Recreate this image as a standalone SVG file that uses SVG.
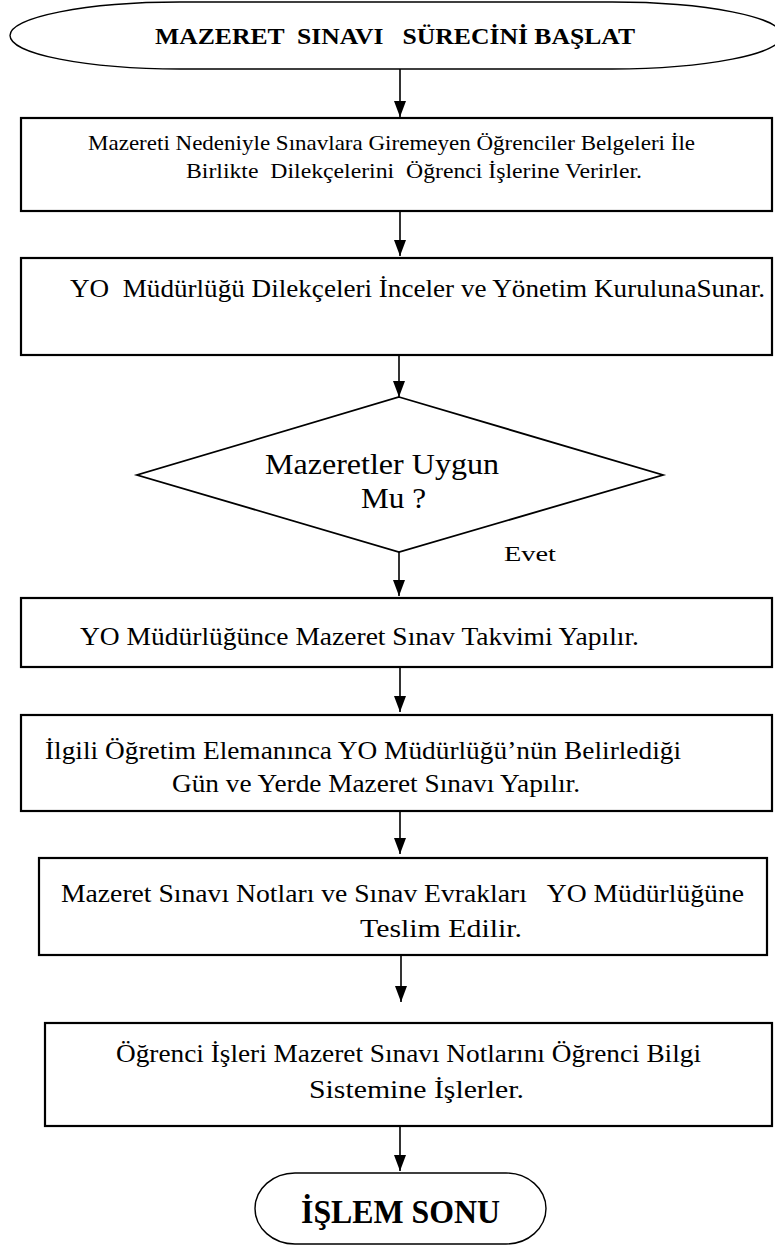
<svg xmlns="http://www.w3.org/2000/svg" width="775" height="1246" viewBox="0 0 775 1246" font-family="'Liberation Serif', 'Times New Roman', serif">
<defs>
<style>
.box{fill:#fff;stroke:#000;stroke-width:2.2}
.term{fill:#fff;stroke:#000;stroke-width:1.4}
.dia{fill:#fff;stroke:#000;stroke-width:1.8}
.t{font-family:"Liberation Serif","Times New Roman",serif;fill:#000}
.b{font-weight:bold}
.con{stroke:#000;stroke-width:1.6;fill:none}
</style>
<marker id="ah" markerWidth="16" markerHeight="12" refX="16" refY="6" orient="auto" markerUnits="userSpaceOnUse" viewBox="0 0 16 12">
<path d="M0,0 L16,6 L0,12 Z" fill="#000"/>
</marker>
</defs>
<rect width="775" height="1246" fill="#fff"/>
<g id="connectors">
<line class="con" x1="400" y1="69" x2="400" y2="117" marker-end="url(#ah)"/>
<line class="con" x1="400" y1="211" x2="400" y2="256" marker-end="url(#ah)"/>
<line class="con" x1="399" y1="355" x2="399" y2="397" marker-end="url(#ah)"/>
<line class="con" x1="399" y1="552" x2="399" y2="596" marker-end="url(#ah)"/>
<line class="con" x1="400" y1="667" x2="400" y2="712" marker-end="url(#ah)"/>
<line class="con" x1="400" y1="811" x2="400" y2="854" marker-end="url(#ah)"/>
<line class="con" x1="401" y1="955" x2="401" y2="1002" marker-end="url(#ah)"/>
<line class="con" x1="400" y1="1126" x2="400" y2="1171" marker-end="url(#ah)"/>
</g>
<g id="start">
<rect class="term" x="10" y="2" width="772" height="67" rx="170" ry="33.5"/>
<text class="t b" x="155" y="44" font-size="24" textLength="480" lengthAdjust="spacingAndGlyphs" xml:space="preserve">MAZERET  SINAVI   SÜRECİNİ BAŞLAT</text>
</g>
<g id="step1">
<rect class="box" x="21" y="118" width="751" height="93"/>
<text class="t" x="88" y="150" font-size="21" textLength="607" lengthAdjust="spacingAndGlyphs">Mazereti Nedeniyle Sınavlara Giremeyen Öğrenciler Belgeleri İle</text>
<text class="t" x="186" y="178" font-size="21" textLength="456" lengthAdjust="spacingAndGlyphs" xml:space="preserve">Birlikte  Dilekçelerini  Öğrenci İşlerine Verirler.</text>
</g>
<g id="step2">
<rect class="box" x="21" y="258" width="751" height="97"/>
<text class="t" x="70" y="297" font-size="25" textLength="695" lengthAdjust="spacingAndGlyphs" xml:space="preserve">YO  Müdürlüğü Dilekçeleri İnceler ve Yönetim KurulunaSunar.</text>
</g>
<g id="decision">
<polygon class="dia" points="399,397 663,475 399,552 137,475"/>
<text class="t" x="265" y="474" font-size="30" textLength="234" lengthAdjust="spacingAndGlyphs">Mazeretler Uygun</text>
<text class="t" x="361" y="508" font-size="30" textLength="65" lengthAdjust="spacingAndGlyphs">Mu ?</text>
<text class="t" x="504" y="561" font-size="22" textLength="52" lengthAdjust="spacingAndGlyphs">Evet</text>
</g>
<g id="step3">
<rect class="box" x="21" y="598" width="751" height="69"/>
<text class="t" x="80" y="645" font-size="26" textLength="559" lengthAdjust="spacingAndGlyphs">YO Müdürlüğünce Mazeret Sınav Takvimi Yapılır.</text>
</g>
<g id="step4">
<rect class="box" x="21" y="715" width="751" height="96"/>
<text class="t" x="45" y="759" font-size="26" textLength="636" lengthAdjust="spacingAndGlyphs">İlgili Öğretim Elemanınca YO Müdürlüğü’nün Belirlediği</text>
<text class="t" x="172" y="792" font-size="26" textLength="408" lengthAdjust="spacingAndGlyphs">Gün ve Yerde Mazeret Sınavı Yapılır.</text>
</g>
<g id="step5">
<rect class="box" x="39" y="858" width="728" height="97"/>
<text class="t" x="61" y="902" font-size="26" textLength="683" lengthAdjust="spacingAndGlyphs" xml:space="preserve">Mazeret Sınavı Notları ve Sınav Evrakları   YO Müdürlüğüne</text>
<text class="t" x="360" y="937" font-size="26" textLength="162" lengthAdjust="spacingAndGlyphs">Teslim Edilir.</text>
</g>
<g id="step6">
<rect class="box" x="45" y="1023" width="727" height="103"/>
<text class="t" x="116" y="1062" font-size="26" textLength="585" lengthAdjust="spacingAndGlyphs">Öğrenci İşleri Mazeret Sınavı Notlarını Öğrenci Bilgi</text>
<text class="t" x="309" y="1098" font-size="26" textLength="215" lengthAdjust="spacingAndGlyphs">Sistemine İşlerler.</text>
</g>
<g id="end">
<rect class="term" x="255" y="1173" width="291" height="71" rx="40" ry="35.5"/>
<text class="t b" x="301" y="1223" font-size="33" textLength="199" lengthAdjust="spacingAndGlyphs">İŞLEM SONU</text>
</g>
</svg>
